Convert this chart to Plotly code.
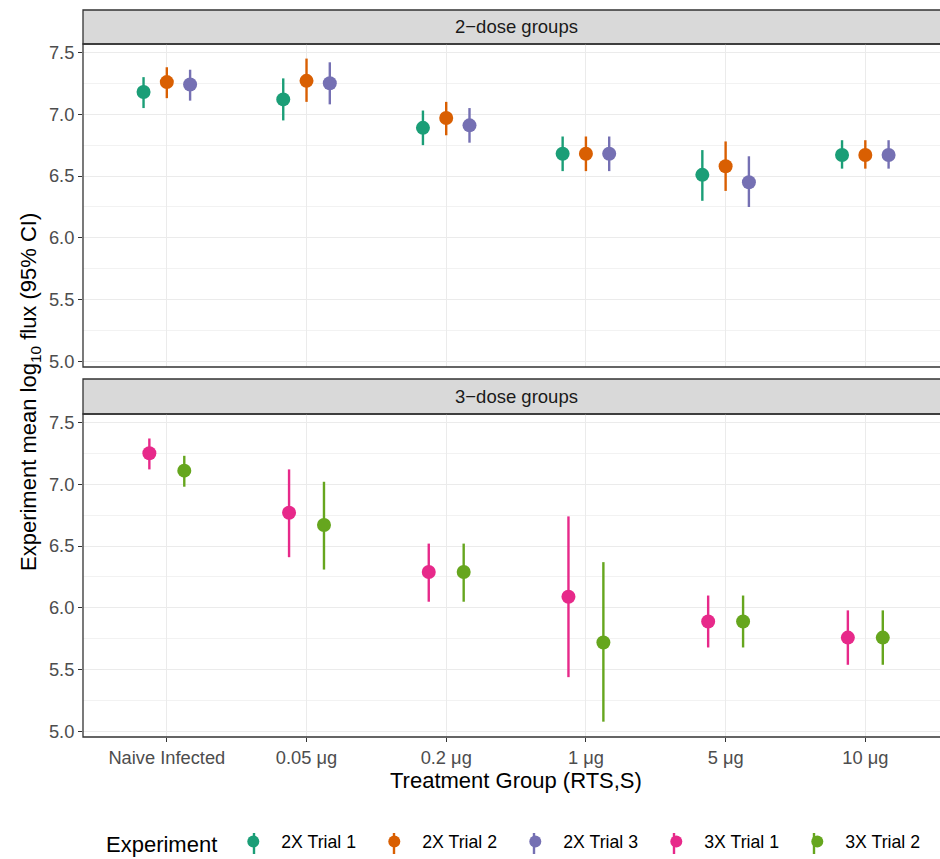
import plotly.graph_objects as go

# ---- data -------------------------------------------------------------
categories = ["Naive Infected", "0.05 μg", "0.2 μg", "1 μg", "5 μg", "10 μg"]

two_dose = ["2X Trial 1", "2X Trial 2", "2X Trial 3"]
three_dose = ["3X Trial 1", "3X Trial 2"]

mean_2x_t1 = [7.18, 7.12, 6.89, 6.68, 6.51, 6.67]
low_2x_t1 = [7.05, 6.95, 6.75, 6.54, 6.30, 6.56]
high_2x_t1 = [7.30, 7.29, 7.03, 6.82, 6.71, 6.79]

mean_2x_t2 = [7.26, 7.27, 6.97, 6.68, 6.58, 6.67]
low_2x_t2 = [7.13, 7.10, 6.83, 6.54, 6.38, 6.56]
high_2x_t2 = [7.38, 7.45, 7.10, 6.82, 6.78, 6.79]

mean_2x_t3 = [7.24, 7.25, 6.91, 6.68, 6.45, 6.67]
low_2x_t3 = [7.11, 7.08, 6.77, 6.54, 6.25, 6.56]
high_2x_t3 = [7.36, 7.42, 7.05, 6.82, 6.66, 6.79]

mean_3x_t1 = [7.25, 6.77, 6.29, 6.09, 5.89, 5.76]
low_3x_t1 = [7.12, 6.41, 6.05, 5.44, 5.68, 5.54]
high_3x_t1 = [7.37, 7.12, 6.52, 6.74, 6.10, 5.98]

mean_3x_t2 = [7.11, 6.67, 6.29, 5.72, 5.89, 5.76]
low_3x_t2 = [6.98, 6.31, 6.05, 5.08, 5.68, 5.54]
high_3x_t2 = [7.23, 7.02, 6.52, 6.37, 6.10, 5.98]

experiments = ["2X Trial 1", "2X Trial 2", "2X Trial 3", "3X Trial 1", "3X Trial 2"]
palette = ["#1B9E77", "#D95F02", "#7570B3", "#E7298A", "#66A61E"]
colors = dict(zip(experiments, palette))

series = {
    "2X Trial 1": (mean_2x_t1, low_2x_t1, high_2x_t1),
    "2X Trial 2": (mean_2x_t2, low_2x_t2, high_2x_t2),
    "2X Trial 3": (mean_2x_t3, low_2x_t3, high_2x_t3),
    "3X Trial 1": (mean_3x_t1, low_3x_t1, high_3x_t1),
    "3X Trial 2": (mean_3x_t2, low_3x_t2, high_3x_t2),
}

# ---- geometry helpers (pixels -> paper) -------------------------------
W, H = 940, 859
L, T, B = 83, 10, 737          # plot-area left, top, bottom in pixels
PW, PH = W - L, B - T


def px(p):
    return (p - L) / PW


def py(p):
    return (B - p) / PH


FONT = "Liberation Sans, Arial, Helvetica, sans-serif"
DODGE = 0.5
TICK_SIZE = 18.3
STRIP_SIZE = 18.5
TITLE_SIZE = 22
LEGEND_SIZE = 17.7

fig = go.Figure()


def add_group(names, xaxis, yaxis):
    n = len(names)
    for i, name in enumerate(names):
        mean, low, high = series[name]
        off = (i - (n - 1) / 2) * DODGE / n
        xs = [k + 1 + off for k in range(len(categories))]
        fig.add_trace(go.Scatter(
            x=xs, y=mean, mode="markers", name=name,
            xaxis=xaxis, yaxis=yaxis,
            marker=dict(color=colors[name], size=14, line=dict(width=0)),
            error_y=dict(type="data", symmetric=False,
                         array=[h - m for h, m in zip(high, mean)],
                         arrayminus=[m - l for m, l in zip(mean, low)],
                         color=colors[name], thickness=2.4, width=0),
            hovertemplate="%{y:.2f}<extra>" + name + "</extra>",
        ))


add_group(two_dose, "x", "y")
add_group(three_dose, "x2", "y2")

xrange = [0.4, 0.4 + PW / 139.7]
yrange = [4.956, 7.568]

common_y = dict(
    range=yrange, tick0=5, dtick=0.5, tickformat=".1f",
    showgrid=True, gridcolor="#EBEBEB", gridwidth=1.2,
    minor=dict(dtick=0.25, tick0=5, showgrid=True, gridcolor="#F2F2F2", gridwidth=0.8),
    ticks="outside", ticklen=4, tickwidth=1.1, tickcolor="#333333",
    tickfont=dict(family=FONT, size=TICK_SIZE, color="#4D4D4D"),
    zeroline=False, showline=False, fixedrange=True,
)
common_x = dict(
    range=xrange, tickvals=list(range(1, len(categories) + 1)), ticktext=categories,
    showgrid=True, gridcolor="#EBEBEB", gridwidth=1.2,
    zeroline=False, showline=False, fixedrange=True, domain=[0, 1],
)

fig.update_layout(
    width=W, height=H,
    margin=dict(l=L, r=0, t=T, b=H - B, pad=0),
    paper_bgcolor="white", plot_bgcolor="white",
    font=dict(family=FONT, color="#000000"),
    xaxis=dict(**common_x, anchor="y", showticklabels=False, ticks=""),
    yaxis=dict(**common_y, domain=[py(367), py(44)], anchor="x"),
    xaxis2=dict(**common_x, anchor="y2", ticks="outside", ticklen=4, tickwidth=1.1,
                tickcolor="#333333",
                tickfont=dict(family=FONT, size=TICK_SIZE, color="#4D4D4D")),
    yaxis2=dict(**common_y, domain=[py(737), py(414)], anchor="x2"),
    showlegend=True,
    legend=dict(
        orientation="h", xref="container", yref="container",
        x=104 / W, xanchor="left", y=(H - 843) / H, yanchor="middle",
        bgcolor="rgba(0,0,0,0)", borderwidth=0,
        title=dict(text="Experiment", side="left",
                   font=dict(family=FONT, size=TITLE_SIZE, color="#000000")),
        font=dict(family=FONT, size=LEGEND_SIZE, color="#000000"),
        itemwidth=46, entrywidth=80, entrywidthmode="pixels",
        itemsizing="constant",
    ),
)

shapes = []
border = dict(color="#333333", width=1.3)
# panel borders (right side runs off the canvas)
for top, bottom in [(44, 367), (414, 737)]:
    shapes.append(dict(type="rect", xref="paper", yref="paper",
                       x0=0, x1=1.05, y0=py(bottom), y1=py(top),
                       line=border, fillcolor="rgba(0,0,0,0)", layer="above"))
# facet strips
for top, bottom in [(10, 44), (379, 414)]:
    shapes.append(dict(type="rect", xref="paper", yref="paper",
                       x0=0, x1=1.05, y0=py(bottom), y1=py(top),
                       line=border, fillcolor="#D9D9D9", layer="below"))
# pointrange whiskers behind the legend symbols
for k, name in enumerate(experiments):
    cx = px(254 + 140 * k)
    shapes.append(dict(type="line", xref="paper", yref="paper",
                       x0=cx, x1=cx, y0=py(833), y1=py(854),
                       line=dict(color=colors[name], width=2.4), layer="above"))
fig.update_layout(shapes=shapes)

annotations = [
    dict(text="2\u2212dose groups", x=px(516), y=py(27), xref="paper", yref="paper",
         showarrow=False, xanchor="center", yanchor="middle",
         font=dict(family=FONT, size=STRIP_SIZE, color="#1A1A1A")),
    dict(text="3\u2212dose groups", x=px(516), y=py(396.5), xref="paper", yref="paper",
         showarrow=False, xanchor="center", yanchor="middle",
         font=dict(family=FONT, size=STRIP_SIZE, color="#1A1A1A")),
    dict(text="Experiment mean log<sub>10</sub> flux (95% CI)", x=px(30), y=py(392),
         xref="paper", yref="paper", showarrow=False, textangle=-90,
         xanchor="center", yanchor="middle",
         font=dict(family=FONT, size=TITLE_SIZE, color="#000000")),
    dict(text="Treatment Group (RTS,S)", x=px(516), y=py(780), xref="paper", yref="paper",
         showarrow=False, xanchor="center", yanchor="middle",
         font=dict(family=FONT, size=TITLE_SIZE, color="#000000")),
]
fig.update_layout(annotations=annotations)

fig.write_html("out.html", config={"displayModeBar": False})
